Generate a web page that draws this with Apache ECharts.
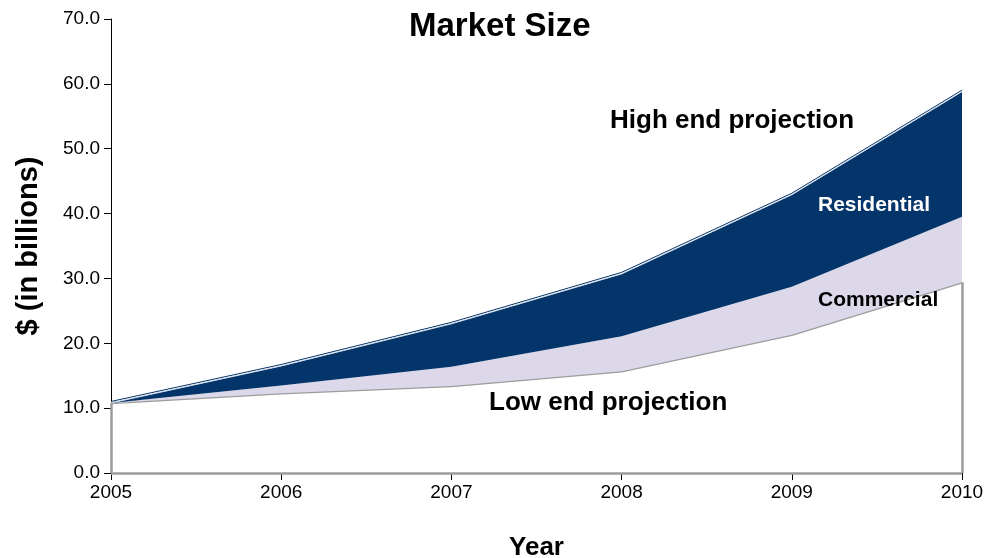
<!DOCTYPE html>
<html>
<head>
<meta charset="utf-8">
<script src="https://cdn.jsdelivr.net/npm/echarts@6/dist/echarts.min.js"></script>
<style>
  html, body { margin: 0; padding: 0; background: #fff; }
  #chart { width: 1001px; height: 558px; }
</style>
</head>
<body>
<div id="chart"></div>
<script>
// Years on the horizontal axis
const years = ['2005', '2006', '2007', '2008', '2009', '2010'];
// Low end projection ($ billions)
const lowEnd = [10.8, 12.3, 13.4, 15.7, 21.3, 29.4];
// Commercial band stacked on the low end projection
const commercial = [0.0, 1.2, 3.0, 5.4, 7.4, 10.1];
// Residential band stacked on top; its top edge is the high end projection
const residential = [0.0, 3.0, 6.6, 9.6, 14.2, 19.3];
// Value-axis range and step
const yMin = 0, yMax = 70, yStep = 10;

const NAVY = '#03346A';
const LAVENDER = '#DCD8E9';
const GREY = '#9C9C9C';
const FONT = '"Liberation Sans", Arial, sans-serif';

const chart = echarts.init(document.getElementById('chart'), null, { renderer: 'canvas' });

chart.setOption({
  animation: false,
  backgroundColor: '#ffffff',
  title: {
    text: 'Market Size',
    left: 404,
    top: 5,
    textStyle: { fontFamily: FONT, fontSize: 33, fontWeight: 'bold', color: '#000' }
  },
  grid: { left: 111, right: 39, top: 19, bottom: 85, outerBoundsMode: 'none', containLabel: false },
  xAxis: {
    type: 'category',
    data: years,
    boundaryGap: false,
    name: 'Year',
    nameLocation: 'middle',
    nameGap: 62,
    nameTextStyle: { fontFamily: FONT, fontSize: 26, fontWeight: 'bold', color: '#000' },
    axisLine: { lineStyle: { color: '#000', width: 1 } },
    axisTick: { show: true, length: 7, lineStyle: { color: '#000' } },
    axisLabel: { fontFamily: FONT, fontSize: 19, color: '#000', margin: 10 },
    splitLine: { show: false }
  },
  yAxis: {
    type: 'value',
    min: yMin,
    max: yMax,
    interval: yStep,
    name: '$ (in billions)',
    nameLocation: 'middle',
    nameGap: 68,
    nameRotate: 90,
    nameTextStyle: { fontFamily: FONT, fontSize: 29, fontWeight: 'bold', color: '#000' },
    axisLine: { show: true, lineStyle: { color: '#000', width: 1 } },
    axisTick: { show: true, length: 7, lineStyle: { color: '#000' } },
    axisLabel: {
      fontFamily: FONT, fontSize: 19, color: '#000', margin: 11,
      formatter: v => v.toFixed(1)
    },
    splitLine: { show: false }
  },
  series: [
    {
      name: 'Low end projection',
      type: 'line',
      stack: 'market',
      data: lowEnd,
      symbol: 'none',
      lineStyle: { color: GREY, width: 2.5 },
      areaStyle: { color: '#ffffff', opacity: 1 },
      markLine: {
        silent: true,
        symbol: 'none',
        label: { show: false },
        lineStyle: { color: GREY, width: 2.5, type: 'solid' },
        data: [
          [{ coord: [years[0], yMin] }, { coord: [years[0], lowEnd[0]] }],
          [{ coord: [years[years.length - 1], yMin] }, { coord: [years[years.length - 1], lowEnd[lowEnd.length - 1]] }],
          [{ coord: [years[0], yMin] }, { coord: [years[years.length - 1], yMin] }]
        ]
      },
      z: 2
    },
    {
      name: 'Commercial',
      type: 'line',
      stack: 'market',
      data: commercial,
      symbol: 'none',
      lineStyle: { width: 0 },
      areaStyle: { color: LAVENDER, opacity: 1 },
      z: 3
    },
    {
      name: 'Residential',
      type: 'line',
      stack: 'market',
      data: residential,
      symbol: 'none',
      lineStyle: {
        color: '#d6deea', width: 1,
        shadowColor: NAVY, shadowBlur: 0, shadowOffsetY: -1.5
      },
      areaStyle: { color: NAVY, opacity: 1 },
      z: 4
    }
  ],
  graphic: [
    {
      type: 'text', left: 610, top: 108, z: 10,
      style: { text: 'High end projection', font: 'bold 26px ' + FONT, fill: '#000' }
    },
    {
      type: 'text', left: 818, top: 195, z: 10,
      style: { text: 'Residential', font: 'bold 21px ' + FONT, fill: '#fff' }
    },
    {
      type: 'text', left: 818, top: 290, z: 10,
      style: { text: 'Commercial', font: 'bold 21px ' + FONT, fill: '#000' }
    },
    {
      type: 'text', left: 489, top: 390, z: 10,
      style: { text: 'Low end projection', font: 'bold 26px ' + FONT, fill: '#000' }
    }
  ]
});
</script>
</body>
</html>
